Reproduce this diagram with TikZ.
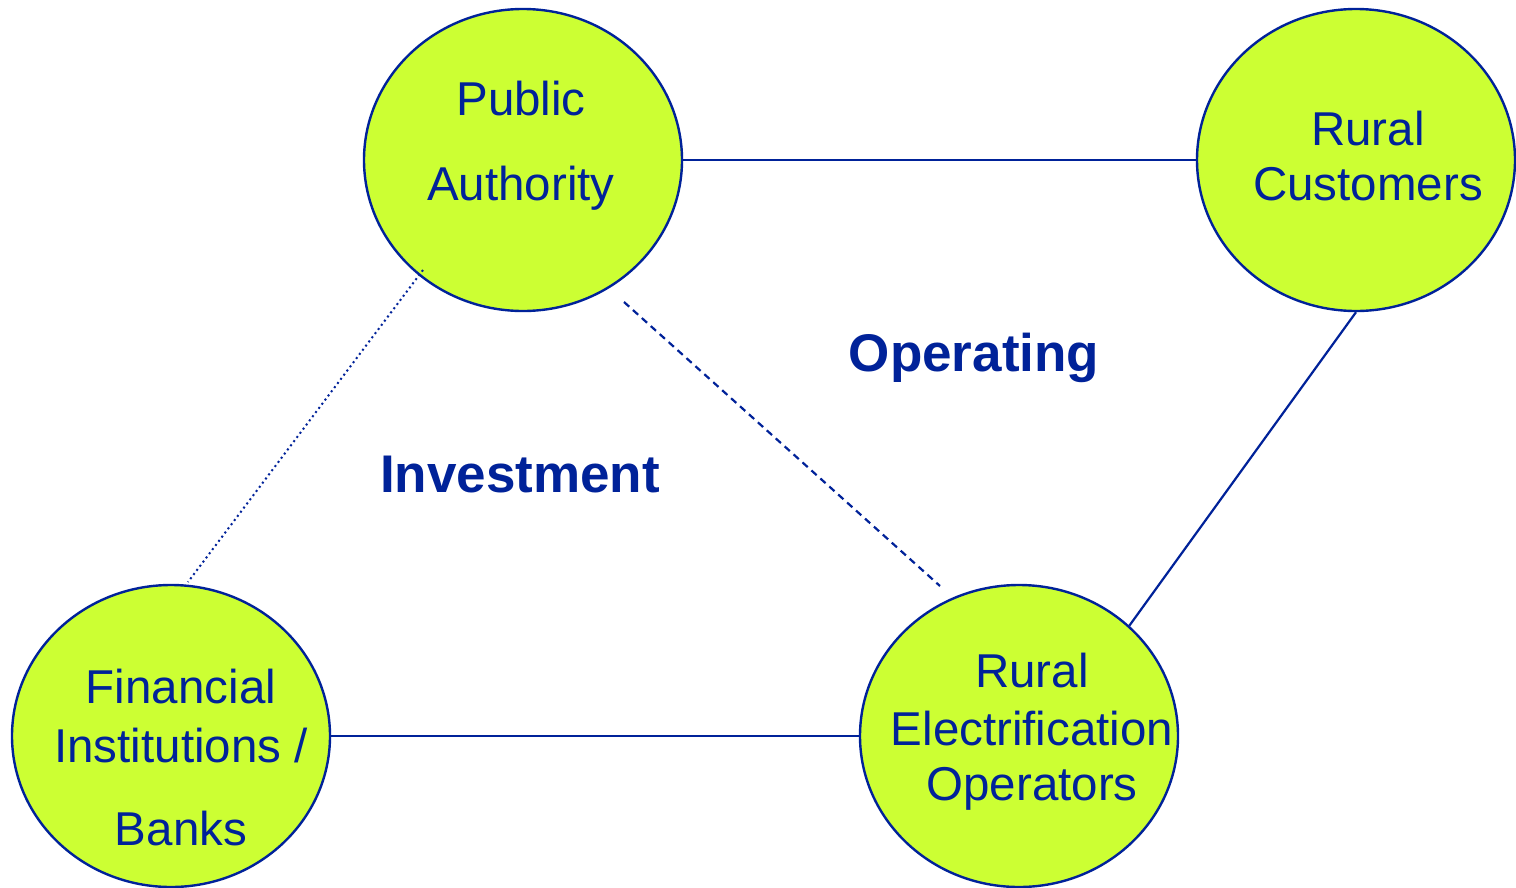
\documentclass[tikz,border=0pt]{standalone}
\usepackage{fontspec}
\setmainfont{Liberation Sans}
\usetikzlibrary{shapes.geometric}
\definecolor{nodefill}{HTML}{CCFF33}
\definecolor{inkblue}{RGB}{0,34,153}
\tikzset{
  party/.style={ellipse, draw=inkblue, fill=nodefill, line width=2.4pt, inner sep=0pt,
    minimum width=318pt, minimum height=302pt},
  lbl/.style={anchor=base, text=inkblue, inner sep=0pt, font=\fontsize{47.5}{47.5}\selectfont},
  area/.style={anchor=base, text=inkblue, inner sep=0pt, font=\fontsize{53}{53}\selectfont\bfseries},
  link/.style={draw=inkblue, line width=2.2pt},
  dotlink/.style={draw=inkblue, line width=2pt, dash pattern=on 2pt off 3.2pt},
  dashlink/.style={draw=inkblue, line width=2.2pt, dash pattern=on 7pt off 5pt}
}
\begin{document}
\begin{tikzpicture}[x=1pt,y=-1pt]
\useasboundingbox (0,0) rectangle (1516,887);
\fill[white] (0,0) rectangle (1516,887);
% ellipses
\node[party] (pa) at (523,160) {};
\node[party] (rc) at (1356,160) {};
\node[party] (fi) at (171,736) {};
\node[party] (reo) at (1019,736) {};
% free ends of the non-touching links
\coordinate (dotA) at (423,270);
\coordinate (dotB) at (188,582);
\coordinate (dashA) at (624,302);
\coordinate (dashB) at (940,586);
% connectors
\draw[link] (pa.east) -- (rc.west);
\draw[link] (rc.south) -- (reo.45);
\draw[link] (fi.east) -- (reo.west);
\draw[dotlink] (dotA) -- (dotB);
\draw[dashlink] (dashA) -- (dashB);
% texts
\node[lbl] (pa1) at (521,115) {Public};
\node[lbl] (pa2) at (521,200) {Authority};
\node[lbl] (rc1) at (1368,145) {Rural};
\node[lbl] (rc2) at (1368,200) {Customers};
\node[lbl] (fi1) at (181,703) {Financial};
\node[lbl] (fi2) at (181,762) {Institutions /};
\node[lbl] (fi3) at (181,845) {Banks};
\node[lbl] (reo1) at (1032,687) {Rural};
\node[lbl] (reo2) at (1032,745) {Electrification};
\node[lbl] (reo3) at (1032,800) {Operators};
\node[area] (inv) at (520,492) {Investment};
\node[area] (op) at (974,371) {Operating};
\end{tikzpicture}
\end{document}
